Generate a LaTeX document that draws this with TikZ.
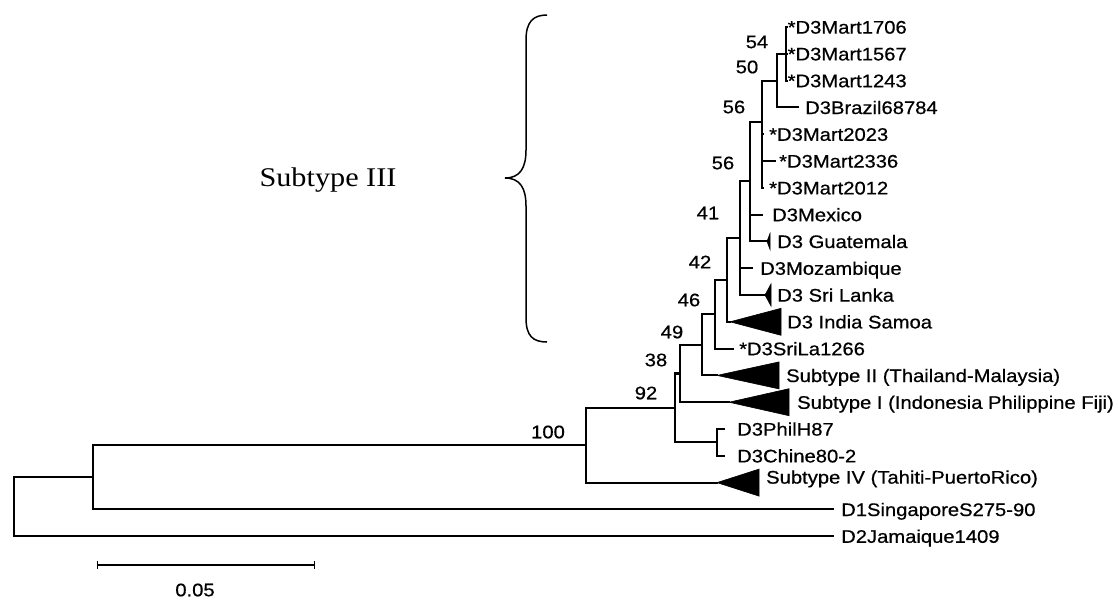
\documentclass[tikz,border=0pt]{standalone}
\usepackage{fontspec}
\setmainfont{Liberation Sans}[FakeStretch=1.11,FakeBold=0.6]
\newfontfamily\serifIII{Liberation Serif}[FakeStretch=1.12]
\newcommand\lbl{\fontsize{18.2}{20}\selectfont}
\begin{document}
\begin{tikzpicture}[x=1pt,y=-1pt,
  br/.style={line width=2.1pt, line cap=rect, line join=miter},
  tip/.style={anchor=base west, inner sep=0pt, font=\lbl},
  boot/.style={anchor=center, inner sep=0pt, font=\lbl},
  clade/.style={fill=black, draw=black, line width=0.6pt, line join=miter}
]
\useasboundingbox (0,0) rectangle (1118,603);
% internal nodes
\coordinate (root) at (14,506.8);
\coordinate (nA) at (93,477.4);
\coordinate (n100) at (586,445.3);
\coordinate (n92) at (675,408);
\coordinate (nPC) at (717,442.4);
\coordinate (n38) at (680,373.5);
\coordinate (n49) at (702,344.9);
\coordinate (n46) at (715,314.3);
\coordinate (n42) at (727,280);
\coordinate (n41) at (740,238.3);
\coordinate (n56L) at (750,181.1);
\coordinate (n56U) at (762,122);
\coordinate (n50) at (777,80.6);
\coordinate (n54) at (786,53.8);
% tips
\coordinate (t1706) at (787,27);
\coordinate (t1567) at (787,53.8);
\coordinate (t1243) at (787,80.6);
\coordinate (tBra) at (798,107.4);
\coordinate (t2023) at (763,134.2);
\coordinate (t2336) at (775,161);
\coordinate (t2012) at (763,187.8);
\coordinate (tMex) at (762,214.6);
\coordinate (tGua) at (767,241.4);
\coordinate (tMoz) at (752,268.2);
\coordinate (tSL) at (765,295);
\coordinate (tIS) at (730,321.8);
\coordinate (tSri) at (733,348.6);
\coordinate (tS2) at (717,375.4);
\coordinate (tS1) at (729,402.2);
\coordinate (tPh) at (724,429);
\coordinate (tCh) at (724,455.8);
\coordinate (tS4) at (717,482.6);
\coordinate (tD1) at (833,509.4);
\coordinate (tD2) at (833,536.2);
% branches
\draw[br] (root) |- (nA);  \draw[br] (root) |- (tD2);
\draw[br] (nA) |- (n100);  \draw[br] (nA) |- (tD1);
\draw[br] (n100) |- (n92); \draw[br] (n100) |- (tS4);
\draw[br] (n92) |- (n38);  \draw[br] (n92) |- (nPC);
\draw[br] (nPC) |- (tPh);  \draw[br] (nPC) |- (tCh);
\draw[br] (n38) |- (n49);  \draw[br] (n38) |- (tS1);
\draw[br] (n49) |- (n46);  \draw[br] (n49) |- (tS2);
\draw[br] (n46) |- (n42);  \draw[br] (n46) |- (tSri);
\draw[br] (n42) |- (n41);  \draw[br] (n42) |- (tIS);
\draw[br] (n41) |- (n56L); \draw[br] (n41) |- (tMoz); \draw[br] (n41) |- (tSL);
\draw[br] (n56L) |- (n56U); \draw[br] (n56L) |- (tMex); \draw[br] (n56L) |- (tGua);
\draw[br] (n56U) |- (n50); \draw[br] (n56U) |- (t2023); \draw[br] (n56U) |- (t2336); \draw[br] (n56U) |- (t2012);
\draw[br] (n50) |- (n54);  \draw[br] (n50) |- (tBra);
\draw[br] (n54) |- (t1706); \draw[br] (n54) |- (t1567); \draw[br] (n54) |- (t1243);
% collapsed clades
\filldraw[clade] (tIS) -- ++(51,-13.5) -- ++(0,27) -- cycle;
\filldraw[clade] (tS2) -- ++(62,-13.5) -- ++(0,27) -- cycle;
\filldraw[clade] (tS1) -- ++(60,-13.5) -- ++(0,27) -- cycle;
\filldraw[clade] (tS4) -- ++(42,-13.5) -- ++(0,27) -- cycle;
\filldraw[clade] (tGua) -- ++(3,-8) -- ++(0,16) -- cycle;
\filldraw[clade] (tSL) -- ++(6,-11) -- ++(0,22) -- cycle;
% tip labels
\node[tip] (l1706) at (787.5,33.6) {*D3Mart1706};
\node[tip] (l1567) at (787.5,60.4) {*D3Mart1567};
\node[tip] (l1243) at (787.5,87.2) {*D3Mart1243};
\node[tip] (lBra) at (805,114) {D3Brazil68784};
\node[tip] (l2023) at (769,140.8) {*D3Mart2023};
\node[tip] (l2336) at (779,167.6) {*D3Mart2336};
\node[tip] (l2012) at (769,194.4) {*D3Mart2012};
\node[tip] (lMex) at (772,221.2) {D3Mexico};
\node[tip] (lGua) at (777,248) {D3 Guatemala};
\node[tip] (lMoz) at (760,274.8) {D3Mozambique};
\node[tip] (lSL) at (777,301.6) {D3 Sri Lanka};
\node[tip] (lIS) at (787,328.4) {D3 India Samoa};
\node[tip] (lSri) at (739,355.2) {*D3SriLa1266};
\node[tip] (lS2) at (786,382) {Subtype II (Thailand-Malaysia)};
\node[tip] (lS1) at (797,408.8) {Subtype I (Indonesia Philippine Fiji)};
\node[tip] (lPh) at (737,435.6) {D3PhilH87};
\node[tip] (lCh) at (737,462.4) {D3Chine80-2};
\node[tip] (lS4) at (766,483.6) {Subtype IV (Tahiti-PuertoRico)};
\node[tip] (lD1) at (841,516) {D1SingaporeS275-90};
\node[tip] (lD2) at (841,542.8) {D2Jamaique1409};
% bootstrap values
\node[boot] (b54) at (757,42) {54};
\node[boot] (b50) at (747,67) {50};
\node[boot] (b56u) at (734,107) {56};
\node[boot] (b56l) at (723,163) {56};
\node[boot] (b41) at (708,213) {41};
\node[boot] (b42) at (700,262) {42};
\node[boot] (b46) at (689,300) {46};
\node[boot] (b49) at (672,332) {49};
\node[boot] (b38) at (656,360) {38};
\node[boot] (b92) at (646,393) {92};
\node[boot] (b100) at (548,432) {100};
% brace and subtype III
\draw[line width=1.5pt] (547,15) .. controls (533,15) and (526,22) .. (526,40) -- (526,150) .. controls (526,168) and (520,178) .. (505,178) .. controls (520,178) and (526,188) .. (526,206) -- (526,318) .. controls (526,336) and (533,342) .. (547,342);
\node[inner sep=0pt, font=\serifIII\fontsize{27}{30}\selectfont] (st3) at (328,180) {Subtype III};
% scale bar
\coordinate (sb1) at (97,565);
\coordinate (sb2) at (314,565);
\draw[line width=1.8pt] (sb1) -- (sb2);
\draw[line width=0.6pt] ([yshift=-4pt]sb1) -- ([yshift=4pt]sb1);
\draw[line width=0.6pt] ([yshift=-4pt]sb2) -- ([yshift=4pt]sb2);
\node[boot] (sbl) at (195,590) {0.05};
\end{tikzpicture}
\end{document}
